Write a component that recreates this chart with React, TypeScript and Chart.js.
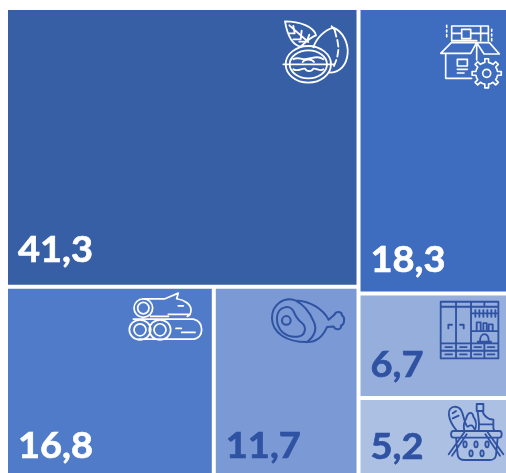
import React, { useEffect, useRef } from "react";
import { Chart, BarController, BarElement, LinearScale } from "chart.js";

const categories = ["Nuts", "Industrial goods", "Timber", "Meat", "Furniture", "Groceries"];
const values = [41.3, 18.3, 16.8, 11.7, 6.7, 5.2];
// Indexes of the cells: [column [row [cells]]]
const nesting = [[[0], [2, 3]], [[1], [4], [5]]];

const fills = ["#375fa6", "#3e6cbf", "#4f7bc8", "#7b99d4", "#95aedc", "#abc0e3"];
const inks = ["#ffffff", "#ffffff", "#ffffff", "#2f52a2", "#2f52a2", "#2f52a2"];
const labelLifts = [22.5, 19, 19, 19, 19, 18];
const labelInset = 10;
const CELL_GAP = 2;

const sum = (ids: number[]) => ids.reduce((a, i) => a + values[i], 0);

function layout() {
  const out: { x0: number; x1: number; y0: number; y1: number }[] = [];
  const total = nesting.flat(2).reduce((a, i) => a + values[i], 0);
  let cx = 0;
  nesting.forEach((col) => {
    const colSum = sum(col.flat());
    const x1c = cx + (colSum / total) * 100;
    let cy = 0;
    col.forEach((row) => {
      const rowSum = sum(row);
      const y1r = cy + (rowSum / colSum) * 100;
      let rx = cx;
      row.forEach((i) => {
        const rx1 = rx + (values[i] / rowSum) * (x1c - cx);
        out[i] = { x0: rx, x1: rx1, y0: cy, y1: y1r };
        rx = rx1;
      });
      cy = y1r;
    });
    cx = x1c;
  });
  return out;
}

class TreemapController extends BarController {
  static id = "treemap";
  static defaults = BarController.defaults;
  static overrides = {};
  updateElements(bars: any[], start: number, count: number, mode: any) {
    const cells = layout();
    const { x: xs, y: ys } = (this as any).chart.scales;
    for (let i = start; i < start + count; i++) {
      const c = cells[i];
      const left = xs.getPixelForValue(c.x0) + CELL_GAP;
      const right = xs.getPixelForValue(c.x1) - CELL_GAP;
      const top = ys.getPixelForValue(c.y0) + CELL_GAP;
      const bottom = ys.getPixelForValue(c.y1) - CELL_GAP;
      (this as any).updateElement(
        bars[i],
        i,
        {
          x: (left + right) / 2,
          width: right - left,
          y: top,
          base: bottom,
          height: bottom - top,
          horizontal: false,
          borderSkipped: {},
          enableBorderRadius: false,
          inflateAmount: 0,
          options: (this as any).resolveDataElementOptions(i, mode),
        },
        mode
      );
    }
  }
}

Chart.register(BarElement, LinearScale, BarController, TreemapController as any);

function gearPath(cx: number, cy: number, r0: number, r1: number, teeth: number) {
  let d = "";
  const step = (Math.PI * 2) / teeth;
  for (let k = 0; k < teeth; k++) {
    const a = k * step - Math.PI / 2;
    const pts = [
      [r0, a - step * 0.5],
      [r0, a - step * 0.22],
      [r1, a - step * 0.16],
      [r1, a + step * 0.16],
      [r0, a + step * 0.22],
    ];
    pts.forEach(([r, t], j) => {
      d += `${k === 0 && j === 0 ? "M" : "L"}${(cx + r * Math.cos(t)).toFixed(1)} ${(cy + r * Math.sin(t)).toFixed(1)} `;
    });
  }
  return d + "Z";
}

const circle = (cx: number, cy: number, r: number, ry = r) =>
  `M${cx - r} ${cy} A${r} ${ry} 0 1 0 ${cx + r} ${cy} A${r} ${ry} 0 1 0 ${cx - r} ${cy} Z `;

// Icons are decorations, drawn at 3x in a local space; ox/oy is that space's origin from the cell's corner.
const icons = [
  {
    ox: 252, oy: -10, lw: 5.5,
    d:
      "M75 64 C120 64 162 80 168 106 C150 112 135 128 122 140 C98 135 82 105 75 64 Z " +
      "M88 76 L145 126 M100 78 L104 100 M104 100 L88 100 M125 92 L122 118 L100 118 M148 104 L140 125 L118 125 " +
      "M220 83 C250 95 265 130 263 160 C260 195 240 218 208 218 M220 83 C195 90 170 112 160 142 M215 79 L224 90 " +
      "M224 90 L229 110 M232 120 L235 140 M235 150 L232 170 M229 180 L222 198 " +
      circle(145, 193, 68, 55) + circle(145, 193, 56, 42) +
      "M70 193 L222 193 M100 178 C115 168 125 182 145 176 C165 172 175 168 190 178 " +
      "M100 208 C115 216 125 204 135 206 C140 216 155 216 160 206 C170 204 180 216 190 208 M128 186 C135 176 155 176 162 186",
  },
  {
    ox: -100.5, oy: -10, lw: 5,
    d:
      "M575 78 L685 78 L685 122 M575 122 L575 78 M575 122 L650 122 M575 100 L605 100 M632 100 L685 100 M605 88 L632 88 L632 116 L605 116 Z " +
      "M662 78 L662 122 M560 76 L560 82 M560 90 L560 96 M560 104 L560 110 M695 88 L695 94 M695 102 L695 108 M695 116 L695 122 " +
      "M542 160 L574 128 L650 128 L632 160 Z M650 128 L688 128 L718 162 L672 162 L650 128 " +
      "M557 160 L557 235 L635 235 M650 135 L650 180 " +
      "M592 178 L622 178 L622 198 L592 198 Z M592 208 L622 208 M592 219 L612 219 " +
      gearPath(680, 220, 33, 44, 8) + circle(680, 220, 12),
  },
  {
    ox: 102, oy: -9, lw: 5.2,
    d:
      circle(100, 85, 28) + circle(100, 85, 17) +
      "M98 57 L165 57 L205 40 L200 57 C225 60 243 75 243 90 C243 100 238 108 232 110 M175 104 L235 104 M122 110 L175 110 M205 78 L220 78 " +
      circle(90, 150, 32, 30) + circle(90, 150, 18) + circle(150, 150, 32, 30) + circle(150, 150, 18) +
      "M70 118 L250 118 C268 122 275 135 275 150 C275 165 265 178 250 178 L88 178 M198 146 L214 146 M215 158 L255 158",
  },
  {
    ox: -105.5, oy: -9, lw: 6,
    d:
      "M555 62 C520 50 485 75 485 115 C485 160 530 187 590 187 C620 187 640 165 650 142 L670 140 C675 153 695 150 692 137 C703 135 705 112 695 107 C695 95 678 93 672 105 L655 120 C640 90 600 62 555 62 Z " +
      "M500 112 C503 80 540 72 550 95 C556 112 565 122 575 130 C590 142 585 168 565 170 C525 175 498 150 500 112 Z " +
      circle(528, 122, 13) +
      "M555 62 C575 72 595 90 610 125 C622 150 612 170 590 187",
  },
  {
    ox: -4.5, oy: -10.4, lw: 5.5,
    d:
      "M254 50 L427 50 L427 220 L254 220 Z M254 65 L427 65 M254 175 L427 175 M254 197 L427 197 " +
      "M300 50 L300 220 M345 50 L345 220 M385 50 L385 65 M385 175 L385 220 " +
      "M277 130 L277 119 L288 119 M312 119 L323 119 L323 130 " +
      "M345 85 L427 85 M358 75 L358 95 M370 75 L370 95 M382 75 L382 95 M394 75 L394 95 M406 75 L406 95 M418 75 L418 95 " +
      "M345 138 L427 138 M362 135 L362 112 L374 112 L374 135 M382 135 L382 114 L392 114 L392 135 M398 135 L398 118 L410 118 L410 135 " +
      "M365 170 L405 170 M372 168 C372 155 378 147 385 147 C395 147 398 155 398 168 " +
      "M268 186 L288 186 M312 186 L332 186 M355 186 L375 186 M395 186 L415 186 M268 208 L288 208 M312 208 L332 208 M355 208 L375 208 M395 208 L415 208",
  },
  {
    ox: -4.5, oy: -115, lw: 5.5,
    d:
      "M292 438 L430 438 Q437 438 437 448 Q437 458 430 458 L292 458 Q285 458 285 448 Q285 438 292 438 Z " +
      "M300 458 L305 510 Q308 525 325 525 L400 525 Q418 525 420 510 L425 458 " +
      "M278 508 L325 442 M288 512 L332 448 M442 508 L395 442 M432 512 L388 448 " +
      circle(327, 478, 5, 9) + circle(360, 478, 5, 9) + circle(393, 478, 5, 9) + circle(345, 505, 5, 9) + circle(378, 505, 5, 9) +
      "M302 437 C275 405 268 365 298 365 C325 368 318 400 332 422 M290 385 L300 378 M290 400 L308 392 " +
      "M325 437 C318 410 332 405 332 395 C338 380 350 380 352 395 C362 408 362 425 355 437 M335 425 C345 418 350 420 355 432 " +
      "M362 357 L382 357 L382 378 L362 378 Z M365 378 C365 395 372 405 368 437 M380 378 C382 392 392 398 400 402 L412 404 L412 430 L415 437 M372 418 L412 418",
  },
];

const labelFont = "bold 38px Lato";
const labelsAndIcons = {
  id: "labelsAndIcons",
  afterDatasetsDraw(chart: any) {
    const ctx: CanvasRenderingContext2D = chart.ctx;
    const meta = chart.getDatasetMeta(0);
    meta.data.forEach((bar: any, i: number) => {
      const left = bar.x - bar.width / 2;
      const top = bar.y;
      const bottom = bar.base;
      const text = values[i].toFixed(1).replace(".", ",");
      ctx.save();
      ctx.translate(left + labelInset, bottom - labelLifts[i]);
      ctx.scale(1, 0.95);
      ctx.font = labelFont;
      ctx.fillStyle = inks[i];
      ctx.strokeStyle = inks[i];
      ctx.lineWidth = 0.7;
      ctx.textBaseline = "alphabetic";
      ctx.fillText(text, 0, 0);
      ctx.strokeText(text, 0, 0);
      ctx.restore();
      ctx.save();
      const ic = icons[i];
      ctx.translate(left + ic.ox, top + ic.oy);
      ctx.scale(1 / 3, 1 / 3);
      ctx.strokeStyle = inks[i];
      ctx.lineWidth = ic.lw;
      ctx.lineJoin = "round";
      ctx.lineCap = "round";
      ctx.stroke(new Path2D(ic.d));
      ctx.restore();
    });
  },
};

export default function App() {
  const ref = useRef<HTMLCanvasElement>(null);
  useEffect(() => {
    const chart = new Chart(ref.current as HTMLCanvasElement, {
      type: "treemap" as any,
      data: {
        labels: categories,
        datasets: [{ data: values, backgroundColor: fills, borderWidth: 0 }],
      },
      options: {
        animation: false,
        responsive: false,
        events: [],
        layout: { padding: { left: 6, top: 8, right: 0, bottom: 0 } },
        plugins: {},
        scales: {
          x: { type: "linear", min: 0, max: 99, display: false, offset: false },
          y: { type: "linear", min: 0, max: 98.7, reverse: true, display: false, offset: false },
        },
      } as any,
      plugins: [labelsAndIcons],
    });
    return () => chart.destroy();
  }, []);
  return (
    <div style={{ position: "fixed", left: 0, top: 0, width: 506, height: 473, background: "#fff" }}>
      <canvas ref={ref} width={506} height={473} style={{ display: "block" }} />
    </div>
  );
}
